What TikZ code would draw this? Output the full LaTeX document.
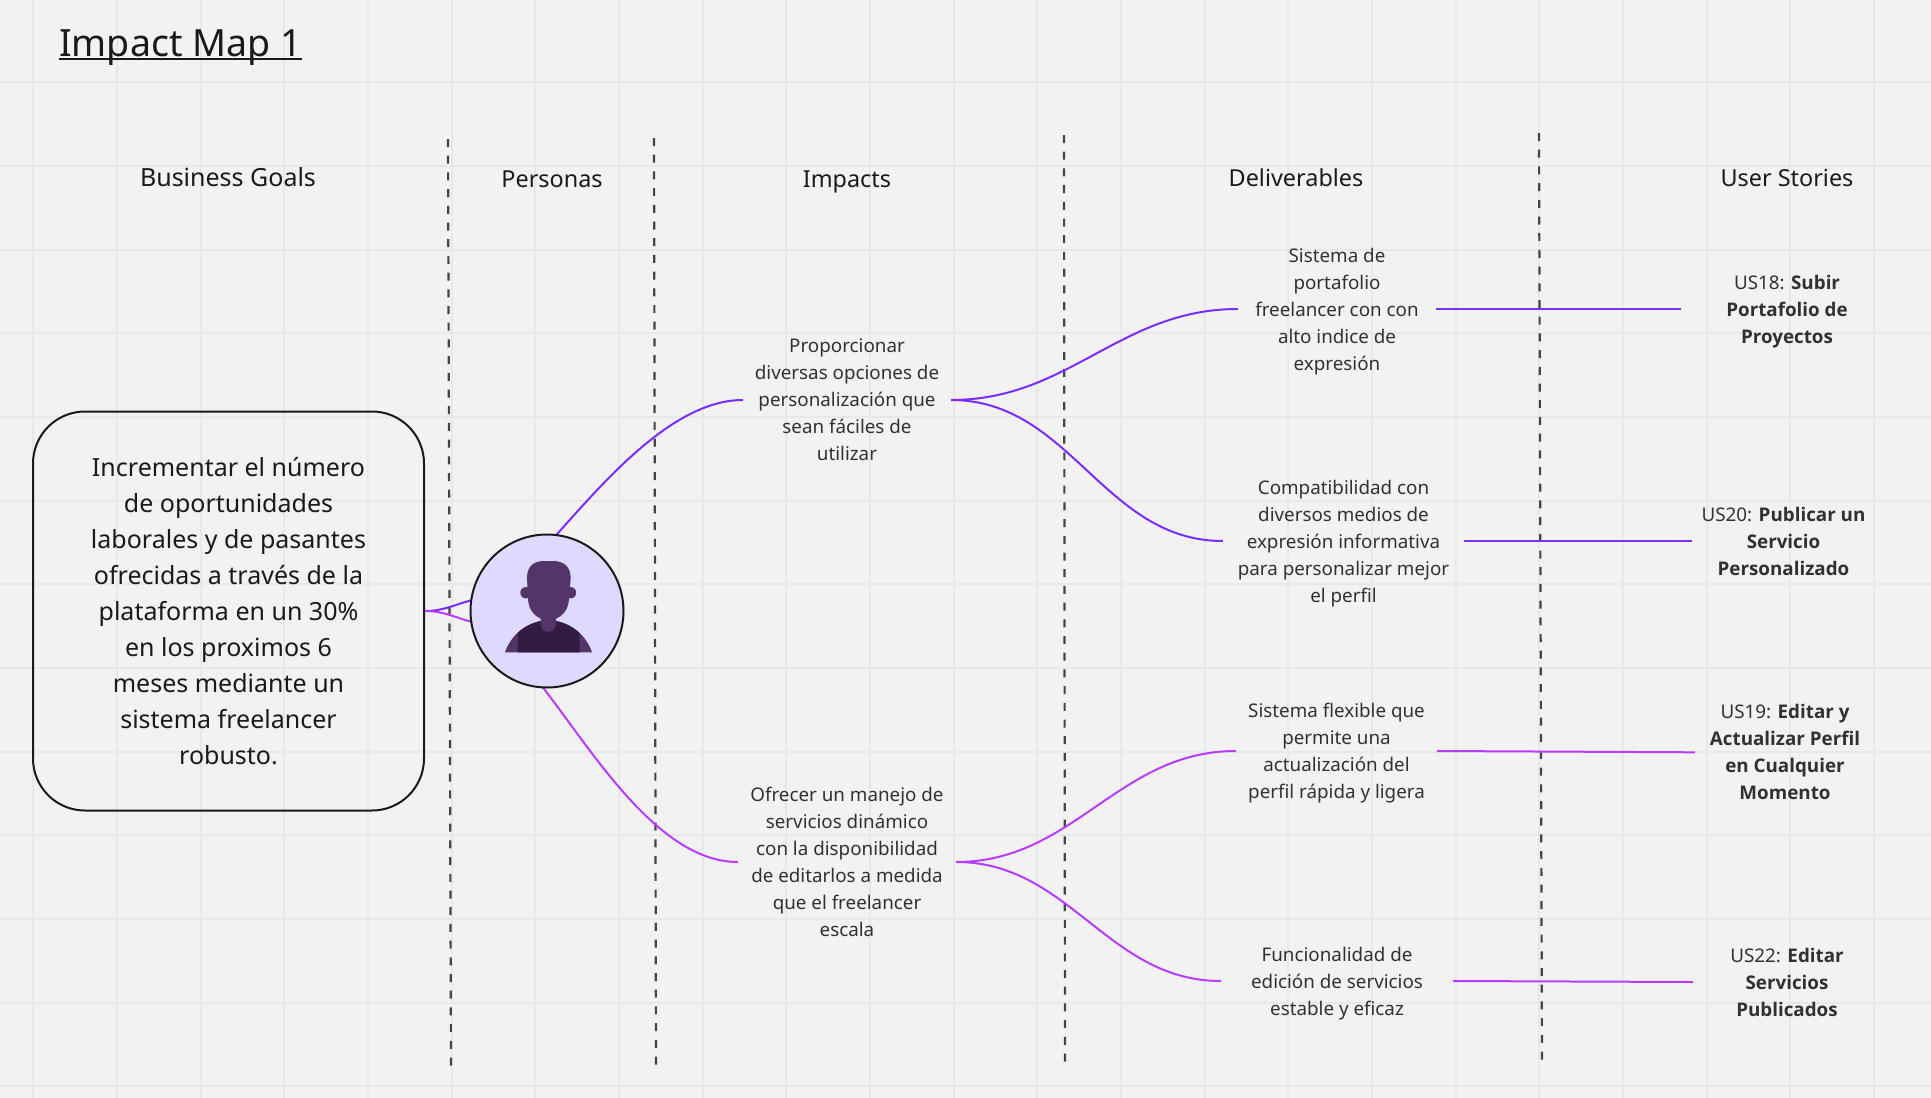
\documentclass[tikz,border=0pt]{standalone}
\usepackage{fontspec}
\setmainfont{Noto Sans}[BoldFont={Open Sans Bold}]
\usetikzlibrary{positioning}
\definecolor{paper}{HTML}{F2F2F2}
\definecolor{gridline}{HTML}{E8E8E8}
\definecolor{inkdark}{HTML}{1A1A1A}
\definecolor{dashgray}{HTML}{444444}
\definecolor{linkblue}{HTML}{7B2CFF}
\definecolor{linkpink}{HTML}{B83CFF}
\definecolor{facefill}{HTML}{DEDAFF}
\definecolor{headfill}{HTML}{54356A}
\definecolor{shirtfill}{HTML}{331C42}
\newcommand{\titleline}[1]{\setbox0\hbox{#1}\rlap{\rule[-4.2pt]{\wd0}{2.4pt}}\box0}
\tikzset{
	heading/.style={font=\fontsize{23.4}{32}\selectfont, text=inkdark, inner sep=0pt, execute at begin node=\strut},
	leaf/.style={font=\fontsize{18.8}{27}\selectfont, text=inkdark!90, align=center, inner sep=0pt, text depth=0pt},
	divider/.style={dashgray, line width=2.2pt, dash pattern=on 8pt off 8.7pt},
	link/.style={line width=2pt},
	bend link/.style={link, out=0, in=180}
}

\begin{document}
\begin{tikzpicture}[x=1pt, y=-1pt]
	\useasboundingbox (0,0) rectangle (1931,1098);

	% paper and grid
	\fill [paper] (0,0) rectangle (1931,1098);
	\foreach \gx in {0,...,22}
		\draw [gridline, line width=1.8pt] ({33.3+83.67*\gx},0) -- ({33.3+83.67*\gx},1098);
	\foreach \gy in {0,...,12}
		\draw [gridline, line width=1.8pt] (0,{82.3+83.67*\gy}) -- (1931,{82.3+83.67*\gy});

	% title
	\node [anchor=base west, inner sep=0pt, font=\fontsize{37.5}{48}\selectfont, text=inkdark] (title) at (59,56)
		{\titleline{Impact Map 1}};

	% column dividers
	\coordinate (div1a) at (448,139); \coordinate (div1b) at (451,1069);
	\coordinate (div2a) at (654,138); \coordinate (div2b) at (656,1066);
	\coordinate (div3a) at (1064,135); \coordinate (div3b) at (1065,1065);
	\coordinate (div4a) at (1539,133); \coordinate (div4b) at (1542,1063);
	\foreach \d in {1,...,4}
		\draw [divider] (div\d a) -- (div\d b);

	% column headings
	\node [heading, font=\fontsize{25}{32}\selectfont] (headGoals) at (228,180.2) {Business Goals};
	\node [heading] (headPersonas) at (552,181) {Personas};
	\node [heading] (headImpacts) at (847,181) {Impacts};
	\node [heading] (headDeliverables) at (1296,180.2) {Deliverables};
	\node [heading] (headStories) at (1787,180.2) {User Stories};

	% business goal
	\node [draw=inkdark, line width=2pt, rounded corners=52pt, minimum width=391pt, minimum height=399pt, inner sep=0pt,
		align=center, text=inkdark, font=\fontsize{25}{35.9}\selectfont, text depth=0pt] (goal) at (228.5,611)
		{Incrementar el número\\de oportunidades\\laborales y de pasantes\\ofrecidas a través de la\\plataforma en un 30\%\\en los proximos 6\\meses mediante un\\sistema freelancer\\robusto.};

	% persona circle, links go under it
	\coordinate (personaC) at (547,611);
	\node [circle, minimum size=153pt, inner sep=0pt] (persona) at (personaC) {};

	% impacts
	\node [leaf, minimum width=208pt] (impactA) at (847,400)
		{Proporcionar\\diversas opciones de\\personalización que\\sean fáciles de\\utilizar};
	\node [leaf, minimum width=218pt] (impactB) at (847,862)
		{Ofrecer un manejo de\\servicios dinámico\\con la disponibilidad\\de editarlos a medida\\que el freelancer\\escala};

	% deliverables
	\node [leaf, minimum width=198pt] (delivA) at (1337,309)
		{Sistema de\\portafolio\\freelancer con con\\alto indice de\\expresión};
	\node [leaf, minimum width=241pt] (delivB) at (1343.5,541)
		{Compatibilidad con\\diversos medios de\\expresión informativa\\para personalizar mejor\\el perfil};
	\node [leaf, minimum width=201pt] (delivC) at (1336.5,751)
		{Sistema flexible que\\permite una\\actualización del\\perfil rápida y ligera};
	\node [leaf, minimum width=232pt] (delivD) at (1337,981)
		{Funcionalidad de\\edición de servicios\\estable y eficaz};

	% user stories
	\node [leaf, minimum width=212pt] (storyA) at (1787,309)
		{US18: \textbf{Subir}\\\textbf{Portafolio de}\\\textbf{Proyectos}};
	\node [leaf, minimum width=183pt] (storyB) at (1783.5,541)
		{US20: \textbf{Publicar un}\\\textbf{Servicio}\\\textbf{Personalizado}};
	\node [leaf, minimum width=180pt] (storyC) at (1785,752.3)
		{US19: \textbf{Editar y}\\\textbf{Actualizar Perfil}\\\textbf{en Cualquier}\\\textbf{Momento}};
	\node [leaf, minimum width=188pt] (storyD) at (1787,982)
		{US22: \textbf{Editar}\\\textbf{Servicios}\\\textbf{Publicados}};

	% links
	\draw [link, linkblue] (goal.east) to [out=0, in=195] (persona.172);
	\draw [link, linkpink] (goal.east) to [out=0, in=165] (persona.188);
	\draw [link, linkblue] (persona.83) to [out=48, in=180, looseness=0.78] (impactA.west);
	\draw [link, linkpink] (persona.267) to [out=-52, in=180, looseness=0.78] (impactB.west);
	\draw [bend link, linkblue] (impactA.east) to (delivA.west);
	\draw [bend link, linkblue] (impactA.east) to (delivB.west);
	\draw [bend link, linkpink] (impactB.east) to (delivC.west);
	\draw [bend link, linkpink] (impactB.east) to (delivD.west);
	\draw [link, linkblue] (delivA.east) -- (storyA.west);
	\draw [link, linkblue] (delivB.east) -- (storyB.west);
	\draw [link, linkpink] (delivC.east) -- (storyC.west);
	\draw [link, linkpink] (delivD.east) -- (storyD.west);

	% persona face
	\draw [fill=facefill, draw=inkdark, line width=2pt] (personaC) circle (76.5pt);
	\fill [headfill] (505,652.3) .. controls (512,632) and (530,621) .. (548.3,620)
		.. controls (567,621) and (585,632) .. (592,652.3) -- cycle;
	\begin{scope}
		\clip (517.5,600) rectangle (579.5,660);
		\fill [shirtfill] (505,652.3) .. controls (512,632) and (530,621) .. (548.3,620)
			.. controls (567,621) and (585,632) .. (592,652.3) -- cycle;
	\end{scope}
	\fill [headfill] (526,592.7) circle (5.7pt) (570.5,592.7) circle (5.7pt);
	\fill [headfill] (540.5,615) -- (556,615) -- (556,624) arc (0:-180:7.75pt) -- cycle;
	\fill [headfill] (527,578) .. controls (527,566) and (534,561) .. (544,561) -- (553,561)
		.. controls (563,561) and (570.7,566) .. (570.7,578) -- (569,598)
		.. controls (569,611) and (560,620) .. (548.3,620)
		.. controls (537,620) and (528,611) .. (528,598) -- cycle;
\end{tikzpicture}
\end{document}
